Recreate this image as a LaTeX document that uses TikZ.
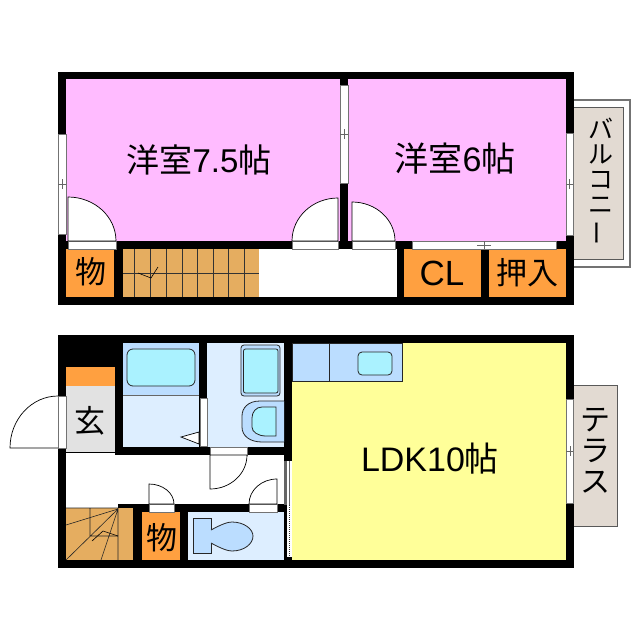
\documentclass[tikz,border=0pt]{standalone}
\usepackage{fontspec}
\setmainfont{Liberation Sans}
\newfontfamily\jpfont{Noto Sans CJK JP}
\definecolor{roompink}{HTML}{FFBBFF}
\definecolor{roomyellow}{HTML}{FFFF99}
\definecolor{closetorange}{HTML}{FFA040}
\definecolor{stairbrown}{HTML}{E5AD60}
\definecolor{outbeige}{HTML}{E2DAD2}
\definecolor{wetblue}{HTML}{DDEEFF}
\definecolor{fixblue}{HTML}{BBDDFF}
\definecolor{fixcyan}{HTML}{AAF2FF}
\definecolor{hallgray}{HTML}{E2E2E2}
\tikzset{
	wall/.style={fill=black},
	thinline/.style={draw=black!60, line width=0.4pt},
	fixture/.style={draw=black!85, line width=0.8pt},
	opening/.style={fill=white, draw=black!55, line width=0.5pt},
	doorleaf/.style={fill=white, draw=black, line width=0.7pt},
	roomlabel/.style={inner sep=0pt, font=\fontsize{33}{33}\selectfont},
	boxlabel/.style={inner sep=0pt, font=\jpfont\fontsize{31}{31}\selectfont},
}
\begin{document}
\begin{tikzpicture}[x=1pt, y=-1pt]
	\useasboundingbox[fill=white] (0,0) rectangle (640,640);

	% Balcony and terrace
	\draw[fill=white, draw=black!55, line width=1.2pt] (573,100) rectangle (630,267);
	\draw[fill=outbeige, draw=black!65, line width=0.6pt] (573,107) rectangle (623,259);
	\draw[fill=outbeige, draw=black!65, line width=0.6pt] (573,385) rectangle (617,526);

	% Upper floor walls
	\fill[wall] (58,72) rectangle (574,305);

	% Upper floor rooms
	\fill[roompink] (66,79) rectangle (340,241);
	\fill[roompink] (348,79) rectangle (566,241);
	\fill[closetorange] (66,249) rectangle (114,297);
	\fill[closetorange] (404,249) rectangle (481,297);
	\fill[closetorange] (489,249) rectangle (566,297);
	\fill[white] (259,249) rectangle (397,297);

	% Upper stairs
	\fill[stairbrown] (123,249) rectangle (259,297);
	\foreach \sx in {134,150,166,182,197,213,228,244}
		\draw[black!80, line width=0.5pt] (\sx,249) -- (\sx,297);
	\draw[black!80, line width=0.5pt] (123,273) -- (259,273);
	\draw[black, line width=0.6pt] (138,273) -- (151,278) -- (158,267);

	% Upper floor windows
	\draw[opening] (58,134) rectangle (66,234);
	\draw[opening] (340,85) rectangle (348,183);
	\draw[opening] (566,133) rectangle (573,235);
	\draw[opening] (412,241) rectangle (556,249);
	\draw[thinline] (58,184) -- (66,184) (62,179) -- (62,189);
	\draw[thinline] (340,134) -- (348,134) (344,129) -- (344,139);
	\draw[thinline] (566,184) -- (573,184) (569.5,179) -- (569.5,189);
	\draw[thinline] (484,241) -- (484,249) (477,245) -- (491,245);

	% Upper floor doors
	\draw[opening] (68,241) rectangle (116,249);
	\draw[opening] (292,241) rectangle (338,249);
	\draw[opening] (352,241) rectangle (395,249);
	\draw[doorleaf] (68,241) -- (68,197) arc[start angle=-90, end angle=0, x radius=48, y radius=44] -- cycle;
	\draw[doorleaf] (338,241) -- (338,198) arc[start angle=-90, end angle=-180, x radius=46, y radius=43] -- cycle;
	\draw[doorleaf] (352,241) -- (352,202) arc[start angle=-90, end angle=0, x radius=43, y radius=39] -- cycle;

	% Lower floor walls
	\fill[wall] (58,335) rectangle (574,568);

	% Lower floor rooms
	\fill[roomyellow] (292,343) rectangle (566,560);
	\fill[closetorange] (66,367) rectangle (115,386);
	\fill[hallgray] (66,386) rectangle (115,452);
	\fill[white] (66,452.5) rectangle (115,508);
	\fill[white] (115,455) rectangle (284,504);
	\fill[white] (66,503) rectangle (118,508);
	\fill[fixblue] (123,343) rectangle (199,395);
	\fill[wetblue] (123,395.5) rectangle (199,447);
	\fill[wetblue] (207,343) rectangle (284,447);
	\fill[closetorange] (142,512) rectangle (180,560);
	\fill[wetblue] (188,512) rectangle (284,560);

	% Kitchen
	\draw[fixture, fill=fixblue] (292,343) rectangle (402,381);
	\draw[fixture] (329,343) -- (329,381);
	\draw[fixture, fill=fixcyan, rounded corners=4pt] (358,352) rectangle (392,375);

	% Bath
	\draw[fixture, fill=fixcyan, rounded corners=6pt] (127,349) rectangle (195,386);
	\draw[thinline] (123,395.5) -- (199,395.5);
	\draw[fixture, fill=fixblue, rounded corners=3pt] (241,345) rectangle (280,396);
	\draw[fixture, fill=fixcyan, rounded corners=2pt] (243.5,349) rectangle (278,393);

	% Wash basin
	\draw[fixture, fill=fixblue] (284,401) -- (260,401) .. controls (248,401) and (242,408) .. (242,416) -- (242,427) .. controls (242,436) and (250,442) .. (262,442) -- (284,442);
	\draw[fixture, fill=fixcyan] (276,407) -- (262,407) .. controls (256,407) and (252,412) .. (252,418) -- (252,427) .. controls (252,432) and (258,436) .. (266,436) -- (276,436) -- cycle;

	% Toilet
	\draw[fixture, fill=fixblue] (193,518) rectangle (211,553);
	\draw[fixture, fill=fixblue] (211,530) .. controls (222,524) and (228,522) .. (232,522) .. controls (244,522) and (253,529) .. (253,536) .. controls (253,544) and (244,551) .. (232,551) .. controls (228,551) and (222,549) .. (211,543);

	% Lower stairs
	\fill[stairbrown] (66,508) rectangle (133,560);
	\draw[black!85, line width=0.6pt] (66,508) -- (118,508) (118,508) -- (118,560)
		(118,509) -- (66,525) (118,509) -- (66,560) (118,509) -- (101,560)
		(90,508) -- (90,536) -- (118,536);
	\draw[black, line width=0.6pt] (92,541) -- (103,531) -- (118,536);

	% Lower floor openings
	\draw[opening] (58,396) rectangle (66,448);
	\draw[opening] (200,398) rectangle (207,446);
	\draw[opening] (210,447) rectangle (247,455);
	\draw[opening] (149,504) rectangle (174,512);
	\draw[opening] (249,504) rectangle (277,512);
	\fill[white] (284,461) rectangle (292,557);
	\fill[black!60] (284,461) rectangle (286.5,505);
	\fill[black] (284,505) rectangle (286.5,560);
	\draw[black!60, line width=0.5pt] (289.5,461) -- (289.5,505);
	\draw[black!80, line width=1pt, densely dotted] (289.5,505) -- (289.5,557);
	\draw[opening] (566,399) rectangle (573,503);
	\draw[thinline] (566,451) -- (573,451) (570,446) -- (570,456);

	% Lower floor doors
	\draw[line width=0.7pt] (58,448) -- (10,448) arc[start angle=180, end angle=270, x radius=48, y radius=52];
	\draw[doorleaf] (199,432) -- (181,437) -- (199,444) -- cycle;
	\draw[doorleaf] (210,455) -- (210,489) arc[start angle=90, end angle=0, x radius=37, y radius=34] -- cycle;
	\draw[doorleaf] (149,504) -- (149,484) arc[start angle=-90, end angle=0, x radius=25, y radius=20] -- cycle;
	\draw[doorleaf] (277,504) -- (277,479) arc[start angle=-90, end angle=-180, x radius=28, y radius=25] -- cycle;

	% Room labels
	\node[roomlabel] (western1) at (199,160) {\jpfont 洋室\rmfamily 7.5\jpfont 帖};
	\node[roomlabel, font=\fontsize{34}{34}\selectfont] (western2) at (455,159) {\jpfont 洋室\rmfamily 6\jpfont 帖};
	\node[roomlabel, font=\fontsize{34}{34}\selectfont] (ldk) at (430,459) {LDK10\jpfont 帖};
	\node[boxlabel] (store1) at (91,272) {物};
	\node[boxlabel] (store2) at (162,538) {物};
	\node[boxlabel, font=\rmfamily\fontsize{35}{35}\selectfont] (closet) at (442,273) {CL};
	\node[boxlabel] (oshiire) at (527,273) {押入};
	\node[boxlabel] (entry) at (90,421) {玄};
	\node[boxlabel, align=center, font=\jpfont\fontsize{25}{25}\selectfont] (balcony) at (601,182) {バ\\ル\\コ\\ニ\\\rotatebox[origin=c]{90}{ー}};
	\node[boxlabel, align=center, font=\jpfont\fontsize{30}{31}\selectfont] (terrace) at (595,451) {テ\\ラ\\ス};
\end{tikzpicture}
\end{document}
